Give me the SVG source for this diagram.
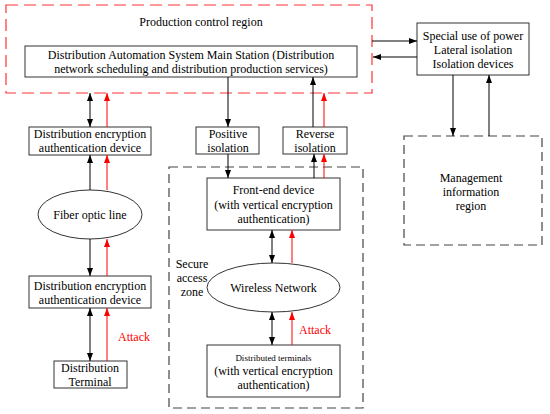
<svg xmlns="http://www.w3.org/2000/svg" width="550" height="414" viewBox="0 0 550 414">
<defs>
<marker id="ab" viewBox="0 0 8 6" refX="8" refY="3" markerWidth="8" markerHeight="6" markerUnits="userSpaceOnUse" orient="auto-start-reverse"><path d="M0,0 L8,3 L0,6 z" fill="#000"/></marker>
<marker id="ar" viewBox="0 0 8 6" refX="8" refY="3" markerWidth="8" markerHeight="6" markerUnits="userSpaceOnUse" orient="auto"><path d="M0,0 L8,3 L0,6 z" fill="#ff0000"/></marker>
</defs>
<style>
text{font-family:"Liberation Serif","Times New Roman",serif;font-size:12px;fill:#000;text-anchor:middle}
.box{fill:#fff;stroke:#333;stroke-width:1}
.rz{fill:none;stroke:#ff3333;stroke-width:1.2;stroke-dasharray:12,6}
.gz{fill:none;stroke:#444;stroke-width:1.2;stroke-dasharray:9,5}
.k{stroke:#000;stroke-width:1;fill:none;marker-end:url(#ab)}
.kk{stroke:#000;stroke-width:1;fill:none;marker-end:url(#ab);marker-start:url(#ab)}
.r{stroke:#ff0000;stroke-width:1;fill:none;marker-end:url(#ar)}
.red{fill:#ff0000}
</style>
<rect width="550" height="414" fill="#fff"/>
<g id="production-control-region">
<rect class="rz" x="6" y="5" width="366" height="88"/>
<text x="201" y="26">Production control region</text>
</g>
<g id="secure-access-zone">
<rect class="gz" x="169" y="167" width="194" height="241"/>
<text x="192" y="268">Secure</text>
<text x="192" y="282">access</text>
<text x="192" y="296">zone</text>
</g>
<g id="management-information-region">
<rect class="gz" x="404" y="136" width="138" height="109"/>
<text x="471" y="182">Management</text>
<text x="471" y="196">information</text>
<text x="471" y="210">region</text>
</g>
<g id="main-station">
<rect class="box" x="25" y="46" width="332" height="31"/>
<text x="191" y="59">Distribution Automation System Main Station (Distribution</text>
<text x="191" y="73">network scheduling and distribution production services)</text>
</g>
<g id="special-isolation">
<rect class="box" x="417" y="23" width="112" height="52"/>
<text x="473" y="40">Special use of power</text>
<text x="473" y="54">Lateral isolation</text>
<text x="473" y="68">Isolation devices</text>
</g>
<g id="enc-device-1">
<rect class="box" x="29" y="127" width="122" height="28"/>
<text x="90" y="138">Distribution encryption</text>
<text x="90" y="152">authentication device</text>
</g>
<g id="fiber-optic-line">
<ellipse cx="90" cy="214.5" rx="52" ry="24.5" fill="#fff" stroke="#333"/>
<text x="90" y="219">Fiber optic line</text>
</g>
<g id="enc-device-2">
<rect class="box" x="29" y="276" width="122" height="32"/>
<text x="90" y="290">Distribution encryption</text>
<text x="90" y="304">authentication device</text>
</g>
<g id="distribution-terminal">
<rect class="box" x="54" y="361" width="73" height="27"/>
<text x="90" y="372">Distribution</text>
<text x="90" y="386">Terminal</text>
</g>
<g id="positive-isolation">
<rect class="box" x="196" y="127" width="63" height="27"/>
<text x="228" y="138">Positive</text>
<text x="228" y="152">isolation</text>
</g>
<g id="reverse-isolation">
<rect class="box" x="283" y="127" width="64" height="27"/>
<text x="315" y="138">Reverse</text>
<text x="315" y="152">isolation</text>
</g>
<g id="front-end-device">
<rect class="box" x="207" y="178" width="133" height="52"/>
<text x="273.5" y="194">Front-end device</text>
<text x="273.5" y="209">(with vertical encryption</text>
<text x="273.5" y="223">authentication)</text>
</g>
<g id="wireless-network">
<ellipse cx="273.5" cy="287.5" rx="66.5" ry="24.5" fill="#fff" stroke="#333"/>
<text x="273.5" y="292">Wireless Network</text>
</g>
<g id="distributed-terminals">
<rect class="box" x="207" y="345" width="133" height="52"/>
<text x="273.5" y="361" style="font-size:9px">Distributed terminals</text>
<text x="273.5" y="375">(with vertical encryption</text>
<text x="273.5" y="389">authentication)</text>
</g>
<g id="connectors">
<line class="k" x1="372" y1="41" x2="417" y2="41"/>
<line class="k" x1="417" y1="57" x2="373" y2="57"/>
<line class="k" x1="453" y1="75" x2="453" y2="136"/>
<line class="k" x1="489" y1="136" x2="489" y2="75"/>
<line class="kk" x1="90" y1="93" x2="90" y2="127"/>
<line class="r" x1="107" y1="127" x2="107" y2="93"/>
<line class="k" x1="90" y1="190" x2="90" y2="155"/>
<line class="r" x1="107" y1="190" x2="107" y2="155"/>
<line class="k" x1="90" y1="239" x2="90" y2="276"/>
<line class="r" x1="107" y1="276" x2="107" y2="239"/>
<line class="kk" x1="90" y1="308" x2="90" y2="361"/>
<line class="r" x1="107" y1="361" x2="107" y2="308"/>
<text class="red" x="134" y="341">Attack</text>
<line class="k" x1="228" y1="77" x2="228" y2="127"/>
<line class="k" x1="313" y1="127" x2="313" y2="77"/>
<line class="r" x1="324" y1="127" x2="324" y2="93"/>
<line class="k" x1="228" y1="154" x2="228" y2="178"/>
<line class="k" x1="314" y1="178" x2="314" y2="154"/>
<line class="r" x1="324" y1="178" x2="324" y2="154"/>
<line class="kk" x1="272" y1="230" x2="272" y2="263"/>
<line class="r" x1="292" y1="263" x2="292" y2="230"/>
<line class="kk" x1="272" y1="312" x2="272" y2="345"/>
<line class="r" x1="292" y1="345" x2="292" y2="312"/>
<text class="red" x="315" y="334">Attack</text>
</g>
</svg>
